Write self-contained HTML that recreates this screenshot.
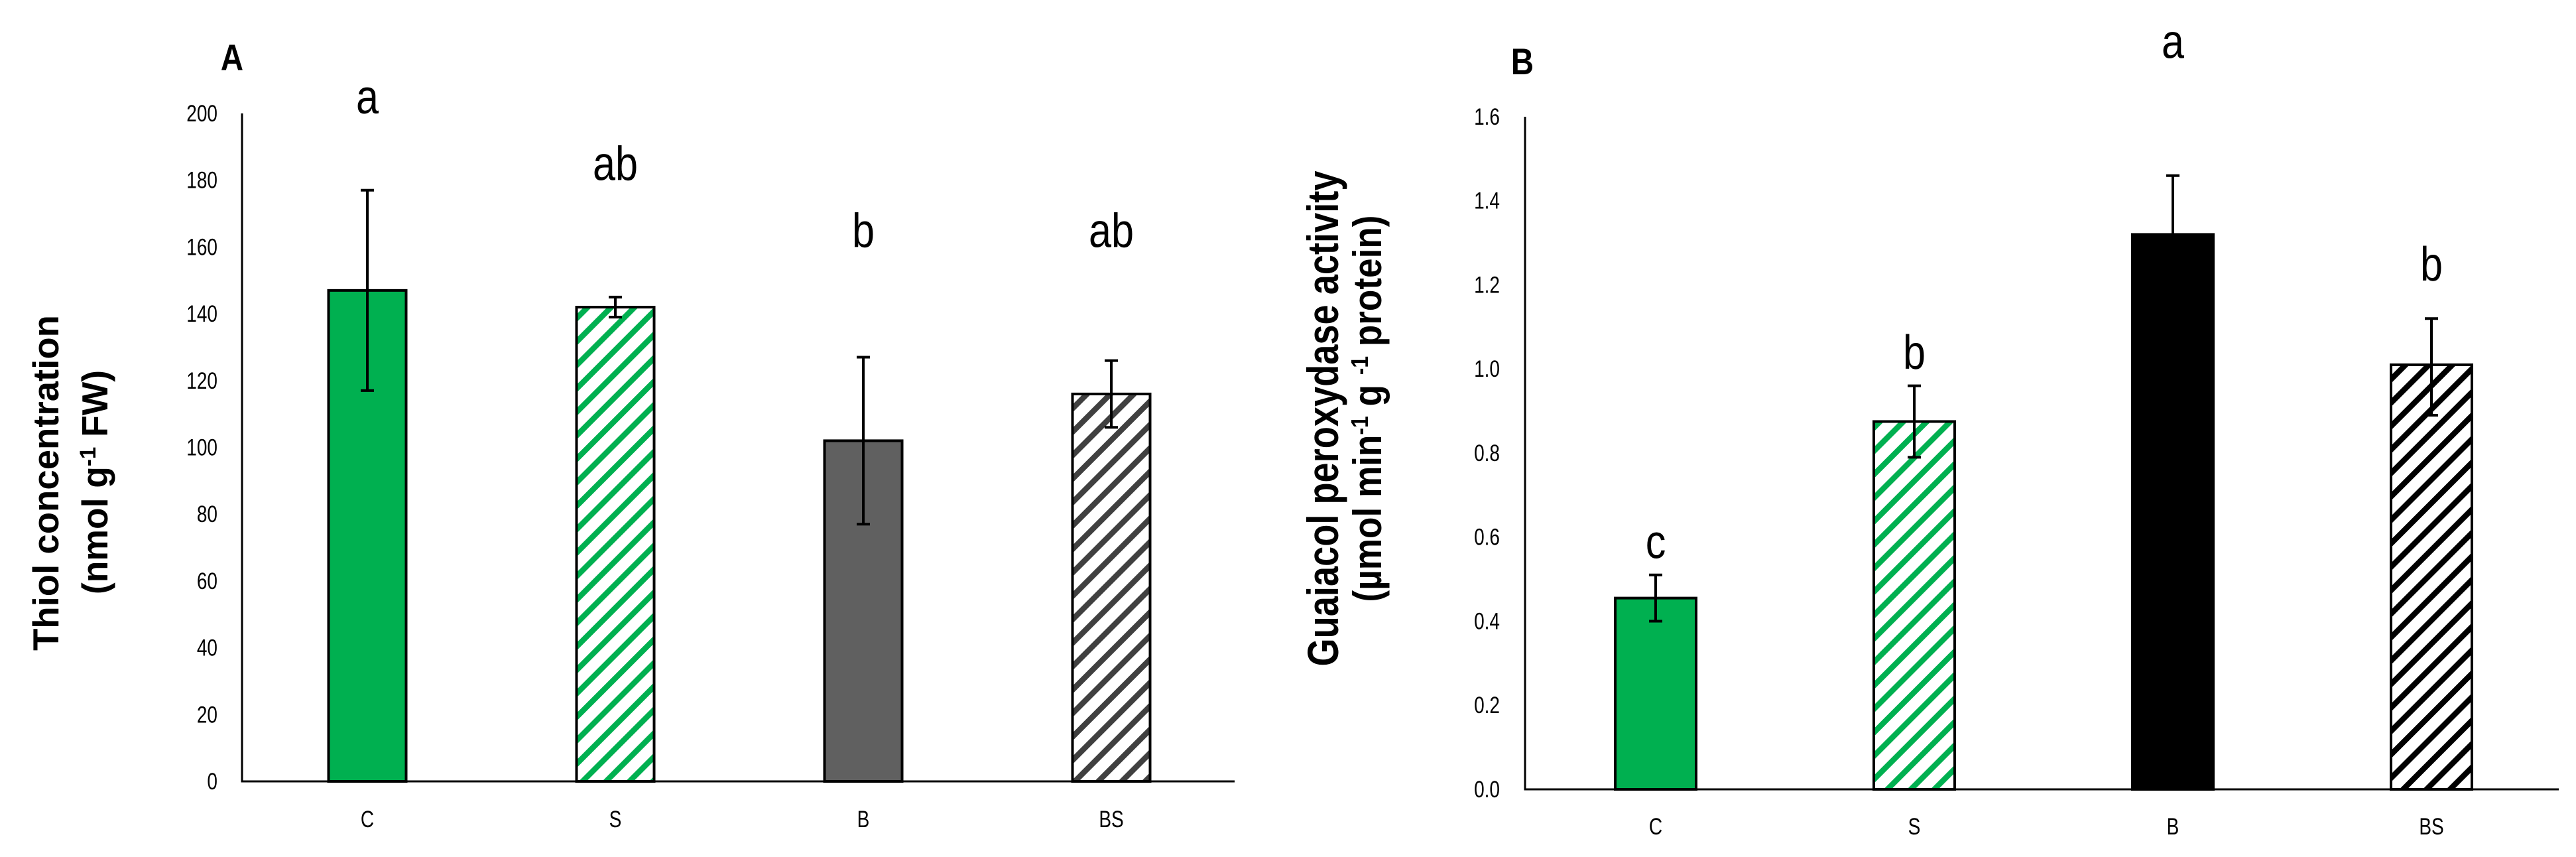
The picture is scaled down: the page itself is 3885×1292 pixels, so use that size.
<!DOCTYPE html>
<html><head><meta charset="utf-8"><style>
html,body{margin:0;padding:0;background:#fff;overflow:hidden;}
svg{display:block;}
text{font-family:"Liberation Sans",sans-serif;}
</style></head><body>
<svg id="chart" width="3885" height="1292" viewBox="0 0 3885 1292" xmlns="http://www.w3.org/2000/svg">
<defs>
<pattern id="hatchG" patternUnits="userSpaceOnUse" width="25" height="25" patternTransform="rotate(45)">
<rect x="0" y="0" width="8.5" height="25" fill="#00b050"/></pattern>
<pattern id="hatchK" patternUnits="userSpaceOnUse" width="25" height="25" patternTransform="rotate(45)">
<rect x="0" y="0" width="8.5" height="25" fill="#404040"/></pattern>
<pattern id="hatchB" patternUnits="userSpaceOnUse" width="25" height="25" patternTransform="rotate(45)">
<rect x="0" y="0" width="8.5" height="25" fill="#000"/></pattern>
</defs>
</svg>
<script>
const categories = ["C","S","B","BS"];
const valuesA = [147, 142, 102, 116];
const errHiA = [177, 145, 127, 126];
const errLoA = [117, 139, 77, 106];
const lettersA = ["a","ab","b","ab"];
const lettersAY = [200, 180, 160, 160];
const ticksA = [0,20,40,60,80,100,120,140,160,180,200];
const valuesB = [0.455, 0.875, 1.32, 1.01];
const errHiB = [0.51, 0.96, 1.46, 1.12];
const errLoB = [0.40, 0.79, 1.18, 0.89];
const lettersB = ["c","b","a","b"];
const lettersBY = [0.55, 1.0, 1.74, 1.21];
const ticksB = [0,0.2,0.4,0.6,0.8,1.0,1.2,1.4,1.6];

const svg = document.getElementById('chart');
const NS = 'http://www.w3.org/2000/svg';
function mk(tag, attrs, parent){const e=document.createElementNS(NS,tag);for(const k in attrs)e.setAttribute(k,attrs[k]);(parent||svg).appendChild(e);return e;}

function panel(cfg){
  const g = mk('g',{});
  
  
  const y = v => cfg.y0 - v / cfg.max * (cfg.y0 - cfg.yTop);
  const x = i => cfg.x0 + cfg.firstC + i * cfg.step;
  cfg.ticks.forEach(t=>{
    const tx = mk('text',{x:cfg.tickX, y:y(t)+12, 'font-size':35, 'text-anchor':'end', fill:'#000', transform:`translate(${cfg.tickX},0) scale(0.8,1) translate(${-cfg.tickX},0)`}, g);
    tx.textContent = cfg.fmt(t);
    
    
  });
  cfg.vals.forEach((v,i)=>{
    const cx = x(i), w = cfg.bw;
    const r = mk('rect',{x:cx-w/2, y:y(v), width:w, height:y(0)-y(v), fill:cfg.fills[i], stroke:'#000', 'stroke-width':4}, g);
    
    
    const e = mk('path',{d:`M${cx} ${y(cfg.hi[i])}V${y(cfg.lo[i])}M${cx-10} ${y(cfg.hi[i])}H${cx+10}M${cx-10} ${y(cfg.lo[i])}H${cx+10}`, stroke:'#000','stroke-width':4, fill:'none'}, g);
    
    
    const l = mk('text',{x:cx, y:y(cfg.ly[i]), 'font-size':72, 'text-anchor':'middle', fill:'#000', transform:`translate(${cx},0) scale(0.85,1) translate(${-cx},0)`}, g);
    l.textContent = cfg.letters[i];
    
    
    const c = mk('text',{x:cx, y:cfg.catY, 'font-size':35, 'text-anchor':'middle', fill:'#000', transform:`translate(${cx},0) scale(0.8,1) translate(${-cx},0)`}, g);
    c.textContent = categories[i];
    
    
  });
  const ax = mk('path',{d:`M${cfg.x0} ${cfg.yTop}V${cfg.y0}H${cfg.xEnd}`, stroke:'#000','stroke-width':3, fill:'none'}, g);
  
  
  const pl = mk('text',{x:cfg.plX, y:cfg.plY, 'font-size':56, 'font-weight':'bold', 'text-anchor':'middle', fill:'#000', transform:`translate(${cfg.plX},0) scale(0.85,1) translate(${-cfg.plX},0)`}, g);
  pl.textContent = cfg.panelLabel;
  
  
  cfg.titles.forEach(tl=>{
    const t = mk('text',{x:0,y:0,'font-size':tl.size,'font-weight':'bold','text-anchor':'middle',fill:'#000',
      textLength:tl.len, lengthAdjust:'spacingAndGlyphs',
      transform:`translate(${tl.x},${tl.cy}) rotate(-90)`}, g);
    
    
    t.innerHTML = tl.html;
  });
}

panel({name:'panel-a', x0:365, y0:1178, yTop:171, xEnd:1862, max:200, firstC:189, step:374, bw:117,
  ticks:ticksA, fmt:t=>String(t), tickX:328, vals:valuesA, hi:errHiA, lo:errLoA, letters:lettersA, ly:lettersAY,
  fills:['#00b050','url(#hatchG)','#606060','url(#hatchK)'], catY:1247, plX:350, plY:106, panelLabel:'A',
  titles:[
    {x:88, cy:728, size:55, len:506, html:'Thiol concentration'},
    {x:162, cy:727, size:55, len:338, html:'(nmol g<tspan dy="-18" font-size="34">-1</tspan><tspan dy="18"> FW)</tspan>'}
  ]});

panel({name:'panel-b', x0:2300, y0:1190, yTop:176, xEnd:3859, max:1.6, firstC:197, step:390, bw:122,
  ticks:ticksB, fmt:t=>t.toFixed(1), tickX:2262, vals:valuesB, hi:errHiB, lo:errLoB, letters:lettersB, ly:lettersBY,
  fills:['#00b050','url(#hatchG)','#000','url(#hatchB)'], catY:1258, plX:2296, plY:112, panelLabel:'B',
  titles:[
    {x:2018, cy:631, size:66, len:747, html:'Guaiacol peroxydase activity'},
    {x:2083, cy:616, size:60, len:583, html:'(µmol min<tspan dy="-20" font-size="36">-1</tspan><tspan dy="20"> g </tspan><tspan dy="-20" font-size="36">-1</tspan><tspan dy="20"> protein)</tspan>'}
  ]});
</script>
</body></html>
